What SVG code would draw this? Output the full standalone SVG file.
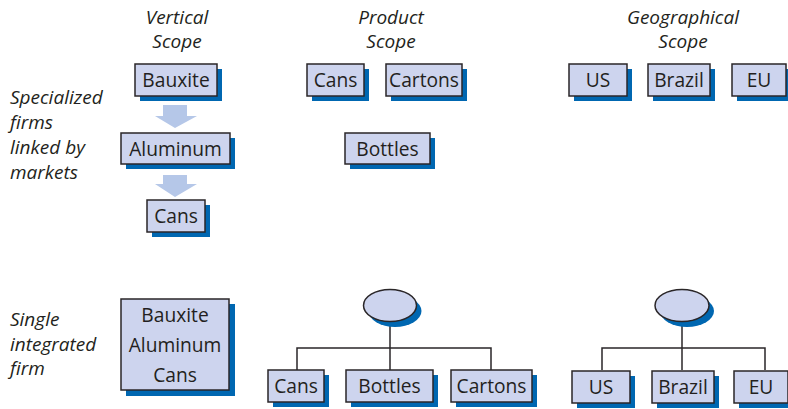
<svg xmlns="http://www.w3.org/2000/svg" width="788" height="409" viewBox="0 0 788 409">
  <style>
    .box { fill: #cdd4ee; stroke: #2a2628; stroke-width: 1.5; }
    .sh { fill: #0067b1; }
    .lbl { font-family: "Open Sans", "Liberation Sans", sans-serif; font-size: 19.2px; fill: #231f20; text-anchor: middle; }
    .it { font-family: "Open Sans", "Liberation Sans", sans-serif; font-size: 19px; font-style: italic; fill: #231f20; }
    .hd { text-anchor: middle; }
    .arrow { fill: #b5c7e8; }
    .line { fill: none; stroke: #2a2628; stroke-width: 1.5; }
  </style>

  <!-- Column headings -->
  <g id="headings">
    <text class="it hd" x="177" y="24">Vertical</text>
    <text class="it hd" x="177" y="48">Scope</text>
    <text class="it hd" x="391" y="24">Product</text>
    <text class="it hd" x="391" y="48">Scope</text>
    <text class="it hd" x="683" y="24">Geographical</text>
    <text class="it hd" x="683" y="48">Scope</text>
  </g>

  <!-- Row labels -->
  <g id="row-labels">
    <text class="it" x="10" y="104">Specialized</text>
    <text class="it" x="10" y="129">firms</text>
    <text class="it" x="10" y="154">linked by</text>
    <text class="it" x="10" y="179">markets</text>
    <text class="it" x="10" y="326">Single</text>
    <text class="it" x="10" y="351">integrated</text>
    <text class="it" x="10" y="375">firm</text>
  </g>

  <!-- Connectors: block arrows and tree lines -->
  <g id="connectors">
    <polygon class="arrow" points="163,105 187,105 187,116 197,116 175,128 155,116 163,116"/>
    <polygon class="arrow" points="163,175 187,175 187,184 197,184 175,197 155,184 163,184"/>
    <polyline class="line" points="297,370 297,348 491,348 491,370"/>
    <line class="line" x1="390" y1="321" x2="390" y2="370"/>
    <polyline class="line" points="602,370 602,348 765,348 765,370"/>
    <line class="line" x1="682" y1="321" x2="682" y2="370"/>
  </g>

  <!-- Vertical scope: specialized -->
  <g id="v-bauxite">
    <rect class="sh" x="140" y="69" width="82" height="32"/>
    <rect class="box" x="135" y="64" width="82" height="32"/>
    <text class="lbl" x="176" y="87">Bauxite</text>
  </g>
  <g id="v-aluminum">
    <rect class="sh" x="126" y="138" width="109" height="31"/>
    <rect class="box" x="121" y="133" width="109" height="31"/>
    <text class="lbl" x="175.5" y="155.5">Aluminum</text>
  </g>
  <g id="v-cans">
    <rect class="sh" x="152" y="205" width="58" height="32"/>
    <rect class="box" x="147" y="200" width="58" height="32"/>
    <text class="lbl" x="176" y="223">Cans</text>
  </g>

  <!-- Product scope: specialized -->
  <g id="p-cans">
    <rect class="sh" x="312" y="69" width="57" height="32"/>
    <rect class="box" x="307" y="64" width="57" height="32"/>
    <text class="lbl" x="335.5" y="87">Cans</text>
  </g>
  <g id="p-cartons">
    <rect class="sh" x="391" y="69" width="76" height="32"/>
    <rect class="box" x="386" y="64" width="76" height="32"/>
    <text class="lbl" x="424" y="87">Cartons</text>
  </g>
  <g id="p-bottles">
    <rect class="sh" x="350" y="138" width="85" height="31"/>
    <rect class="box" x="345" y="133" width="85" height="31"/>
    <text class="lbl" x="387.5" y="155.5">Bottles</text>
  </g>

  <!-- Geographical scope: specialized -->
  <g id="g-us">
    <rect class="sh" x="574" y="69" width="58" height="32"/>
    <rect class="box" x="569" y="64" width="58" height="32"/>
    <text class="lbl" x="598" y="87">US</text>
  </g>
  <g id="g-brazil">
    <rect class="sh" x="653" y="69" width="62" height="32"/>
    <rect class="box" x="648" y="64" width="62" height="32"/>
    <text class="lbl" x="679" y="87">Brazil</text>
  </g>
  <g id="g-eu">
    <rect class="sh" x="737" y="69" width="54" height="32"/>
    <rect class="box" x="732" y="64" width="54" height="32"/>
    <text class="lbl" x="759" y="87">EU</text>
  </g>

  <!-- Vertical scope: integrated -->
  <g id="vi-firm">
    <rect class="sh" x="126" y="304" width="109" height="92"/>
    <rect class="box" x="121" y="299" width="108" height="91"/>
    <text class="lbl" x="175" y="322">Bauxite</text>
    <text class="lbl" x="175" y="352">Aluminum</text>
    <text class="lbl" x="175" y="382">Cans</text>
  </g>

  <!-- Product scope: integrated -->
  <g id="pi-parent">
    <ellipse class="sh" cx="395" cy="311" rx="26.5" ry="16"/>
    <ellipse class="box" cx="390" cy="305.5" rx="26.5" ry="16"/>
  </g>
  <g id="pi-cans">
    <rect class="sh" x="273" y="375" width="56" height="32"/>
    <rect class="box" x="268" y="370" width="56" height="32"/>
    <text class="lbl" x="296" y="393">Cans</text>
  </g>
  <g id="pi-bottles">
    <rect class="sh" x="351" y="375" width="87" height="32"/>
    <rect class="box" x="346" y="370" width="87" height="32"/>
    <text class="lbl" x="389.5" y="393">Bottles</text>
  </g>
  <g id="pi-cartons">
    <rect class="sh" x="456" y="375" width="81" height="32"/>
    <rect class="box" x="451" y="370" width="81" height="32"/>
    <text class="lbl" x="491.5" y="393">Cartons</text>
  </g>

  <!-- Geographical scope: integrated -->
  <g id="gi-parent">
    <ellipse class="sh" cx="687" cy="311" rx="27" ry="16"/>
    <ellipse class="box" cx="682" cy="305.5" rx="27" ry="16"/>
  </g>
  <g id="gi-us">
    <rect class="sh" x="577" y="376" width="58" height="32"/>
    <rect class="box" x="572" y="371" width="58" height="32"/>
    <text class="lbl" x="601" y="394">US</text>
  </g>
  <g id="gi-brazil">
    <rect class="sh" x="657" y="376" width="62" height="32"/>
    <rect class="box" x="652" y="371" width="62" height="32"/>
    <text class="lbl" x="683" y="394">Brazil</text>
  </g>
  <g id="gi-eu">
    <rect class="sh" x="739" y="376" width="54" height="32"/>
    <rect class="box" x="734" y="371" width="54" height="32"/>
    <text class="lbl" x="761" y="394">EU</text>
  </g>
</svg>
